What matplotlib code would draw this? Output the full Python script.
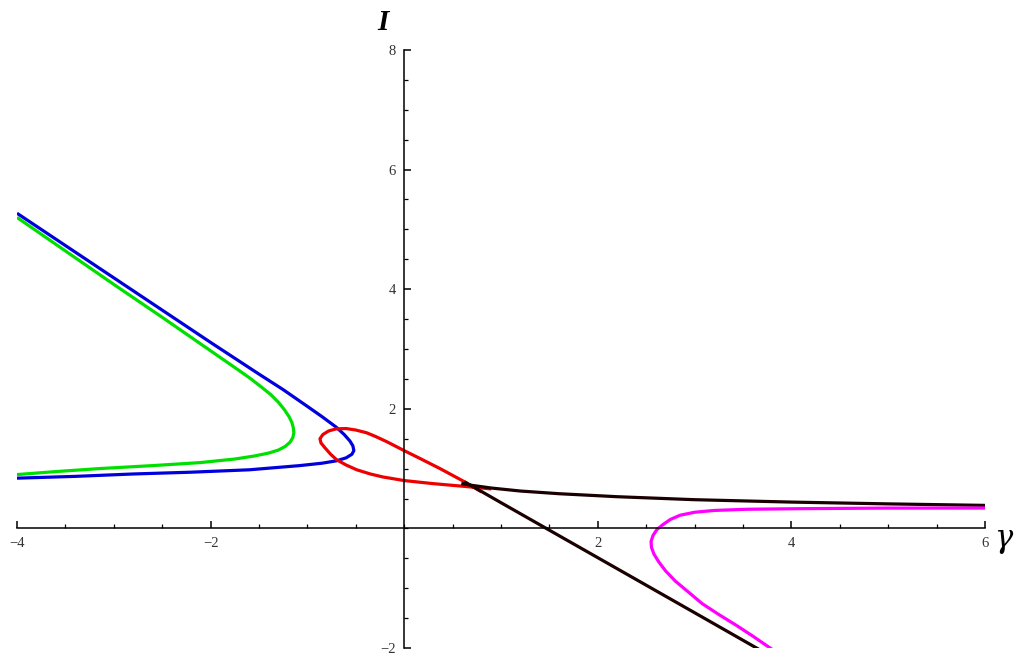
import numpy as np
import matplotlib
matplotlib.use("Agg")
from matplotlib import pyplot as plt
from matplotlib.ticker import MultipleLocator, FixedLocator

# curves (gamma, I)
blue_x = [-4.0, -3.5, -3.0, -2.5, -2.0, -1.5, -1.25, -1.0, -0.85, -0.7, -0.62, -0.56, -0.53, -0.52,
          -0.54, -0.6, -0.7, -0.85, -1.08, -1.6, -2.2, -2.8, -3.4, -4.0]
blue_y = [5.27, 4.73, 4.19, 3.65, 3.11, 2.58, 2.32, 2.04, 1.87, 1.69, 1.57, 1.46, 1.38, 1.30,
          1.24, 1.18, 1.13, 1.09, 1.05, 0.98, 0.94, 0.91, 0.87, 0.84]

green_x = [-4.0, -3.5, -3.0, -2.5, -2.0, -1.75, -1.6, -1.48, -1.38, -1.3, -1.24, -1.19, -1.16, -1.145,
           -1.14, -1.15, -1.18, -1.23, -1.3, -1.4, -1.55, -1.75, -2.11, -2.6, -3.15, -3.6, -4.0]
green_y = [5.2, 4.64, 4.08, 3.53, 2.97, 2.69, 2.52, 2.37, 2.24, 2.11, 1.99, 1.87, 1.77, 1.68,
           1.6, 1.52, 1.44, 1.37, 1.31, 1.26, 1.21, 1.16, 1.1, 1.05, 1.0, 0.95, 0.9]

red_x = [0.8, 0.6, 0.37, 0.15, 0.0, -0.18, -0.3, -0.39, -0.5, -0.6, -0.7, -0.78, -0.84, -0.87,
         -0.86, -0.82, -0.76, -0.70, -0.6, -0.49, -0.35, -0.22, 0.0, 0.29, 0.64, 0.9]
red_y = [0.61, 0.8, 1.0, 1.18, 1.30, 1.45, 1.54, 1.6, 1.645, 1.67, 1.665, 1.63, 1.57, 1.5,
         1.43, 1.35, 1.24, 1.15, 1.06, 0.98, 0.91, 0.86, 0.80, 0.75, 0.70, 0.66]

black_top_x = [0.59, 0.7, 0.9, 1.2, 1.6, 2.2, 3.0, 4.0, 5.0, 6.0]
black_top_y = [0.75, 0.72, 0.675, 0.625, 0.58, 0.53, 0.48, 0.44, 0.41, 0.385]
black_low_x = [0.62, 0.72, 1.0, 1.5, 2.0, 2.5, 3.0, 3.64, 3.8]
black_low_y = [0.78, 0.69, 0.43, -0.03, -0.49, -0.95, -1.41, -2.0, -2.15]

mag_x = [6.0, 5.0, 4.09, 3.54, 3.2, 3.0, 2.85, 2.75, 2.67, 2.61, 2.57, 2.55, 2.555, 2.58, 2.63,
         2.7, 2.8, 2.94, 3.08, 3.25, 3.43, 3.6, 3.78, 3.9]
mag_y = [0.34, 0.34, 0.33, 0.32, 0.3, 0.27, 0.22, 0.15, 0.06, -0.02, -0.12, -0.22, -0.32, -0.43, -0.56,
         -0.71, -0.88, -1.07, -1.26, -1.44, -1.62, -1.8, -2.0, -2.13]

x_ticks = [-4, -2, 2, 4, 6]
y_ticks = [-2, 2, 4, 6, 8]

fig = plt.figure(figsize=(10.24, 6.66), dpi=100)
ax = fig.add_axes([17 / 1024, 18 / 666, 968 / 1024, 598 / 666])

lw = 2.3
kw = dict(lw=lw, solid_capstyle="butt", solid_joinstyle="round")
ax.plot(green_x, green_y, color="#00e000", **kw)
ax.plot(blue_x, blue_y, color="#0000dd", **kw)
ax.plot(red_x, red_y, color="#ee0000", **kw)
ax.plot(black_low_x, black_low_y, color="#1a0000", **kw)
ax.plot(black_top_x, black_top_y, color="#1a0000", **kw)
ax.plot(mag_x, mag_y, color="#ff00ff", **kw)

ax.set_xlim(-4, 6)
ax.set_ylim(-2, 8)

ax.spines["left"].set_position(("data", 0))
ax.spines["bottom"].set_position(("data", 0))
ax.spines["top"].set_visible(False)
ax.spines["right"].set_visible(False)
for s in ["left", "bottom"]:
    ax.spines[s].set_linewidth(1.1)

ax.xaxis.set_major_locator(FixedLocator(x_ticks))
ax.yaxis.set_major_locator(FixedLocator(y_ticks))
ax.xaxis.set_minor_locator(MultipleLocator(0.5))
ax.yaxis.set_minor_locator(MultipleLocator(0.5))
ax.set_xticklabels(["\u2212" + str(-t) if t < 0 else str(t) for t in x_ticks])
ax.set_yticklabels(["\u2212" + str(-t) if t < 0 else str(t) for t in y_ticks])
ax.tick_params(which="major", direction="in", length=5, width=1.1,
               labelsize=10.5, labelcolor="#333333", pad=6)
ax.tick_params(which="minor", direction="in", length=3, width=0.9)
for lab in ax.get_xticklabels() + ax.get_yticklabels():
    lab.set_fontfamily("Liberation Serif")

fig.text(383 / 1024, 1 - 22 / 666, "I", fontsize=21, fontfamily="Liberation Serif",
         fontstyle="italic", fontweight="bold", ha="center", va="center")
fig.text(1003 / 1024, 1 - 538 / 666, "γ", fontsize=22, fontfamily="DejaVu Serif",
         fontstyle="italic", ha="center", va="center")

fig.savefig("out.png", dpi=100)
